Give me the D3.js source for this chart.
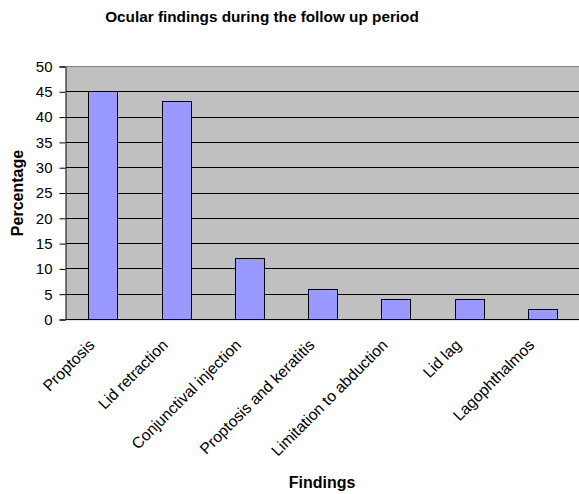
<!DOCTYPE html>
<html><head><meta charset="utf-8">
<script src="https://cdn.jsdelivr.net/npm/d3@7/dist/d3.min.js"></script>
<style>body{margin:0;background:#fff}svg{display:block}text{font-family:"Liberation Sans",Arial,sans-serif}</style>
</head><body><svg id="c" width="579" height="494"></svg>
<script>
const categories = ["Proptosis","Lid retraction","Conjunctival injection","Proptosis and keratitis","Limitation to abduction","Lid lag","Lagophthalmos"];
const values = [45,43,12,6,4,4,2];
const yTicks = [0,5,10,15,20,25,30,35,40,45,50];
const title = "Ocular findings during the follow up period";
const xTitle = "Findings";
const yTitle = "Percentage";

const svg = d3.select("#c");
const L = 66, R = 579, T = 66, B = 319;
const x = d3.scaleBand().domain(categories).range([L, R]).paddingInner(0.61).paddingOuter(0.305);
const y = d3.scaleLinear().domain([0,50]).range([B, T]);

svg.append("rect").attr("x",L).attr("y",T).attr("width",R-L).attr("height",B-T).attr("fill","#C0C0C0");
// gridlines
svg.append("g").selectAll("line").data(yTicks.filter(d=>d>0&&d<50)).join("line")
  .attr("x1",L).attr("x2",R).attr("y1",d=>Math.round(y(d))+0.5).attr("y2",d=>Math.round(y(d))+0.5)
  .attr("stroke","#000").attr("stroke-width",1);
// plot border
svg.append("line").attr("x1",L).attr("x2",R).attr("y1",T+0.5).attr("y2",T+0.5).attr("stroke","#808080");
svg.append("line").attr("x1",L).attr("x2",R).attr("y1",B+1.5).attr("y2",B+1.5).attr("stroke","#E0E0E0");
// bars
svg.append("g").selectAll("rect").data(values).join("rect")
  .attr("x",(d,i)=>Math.round(x(categories[i]))+0.5)
  .attr("y",d=>Math.round(y(d))+0.5)
  .attr("width",Math.round(x.bandwidth()))
  .attr("height",d=>B-Math.round(y(d)))
  .attr("fill","#9999FF").attr("stroke","#000").attr("stroke-width",1);
// y axis
const ya = d3.axisLeft(y).tickValues(yTicks).tickSize(6).tickPadding(7);
const gy = svg.append("g").attr("transform",`translate(${L-0.5},0.5)`).call(ya);
gy.select(".domain").attr("stroke","#000");
gy.selectAll(".tick line").attr("stroke","#000");
gy.selectAll(".tick text").attr("font-size",15).attr("fill","#000").attr("font-family","Liberation Sans, Arial, sans-serif");
// x axis line
svg.append("line").attr("x1",L).attr("x2",R).attr("y1",B+0.5).attr("y2",B+0.5).attr("stroke","#000");
// category labels
svg.append("g").selectAll("text").data(categories).join("text")
  .attr("transform",d=>`translate(${x(d)+x.bandwidth()/2-7},${B+27}) rotate(-45)`)
  .attr("text-anchor","end").attr("font-size",15.7).attr("fill","#000").text(d=>d);
// titles
svg.append("text").attr("x",262).attr("y",22).attr("text-anchor","middle")
  .attr("font-size",15.3).attr("font-weight","bold").text(title);
svg.append("text").attr("x",322).attr("y",488).attr("text-anchor","middle")
  .attr("font-size",16).attr("font-weight","bold").text(xTitle);
svg.append("text").attr("transform","translate(23,193) rotate(-90)").attr("text-anchor","middle")
  .attr("font-size",16).attr("font-weight","bold").text(yTitle);
</script></body></html>
